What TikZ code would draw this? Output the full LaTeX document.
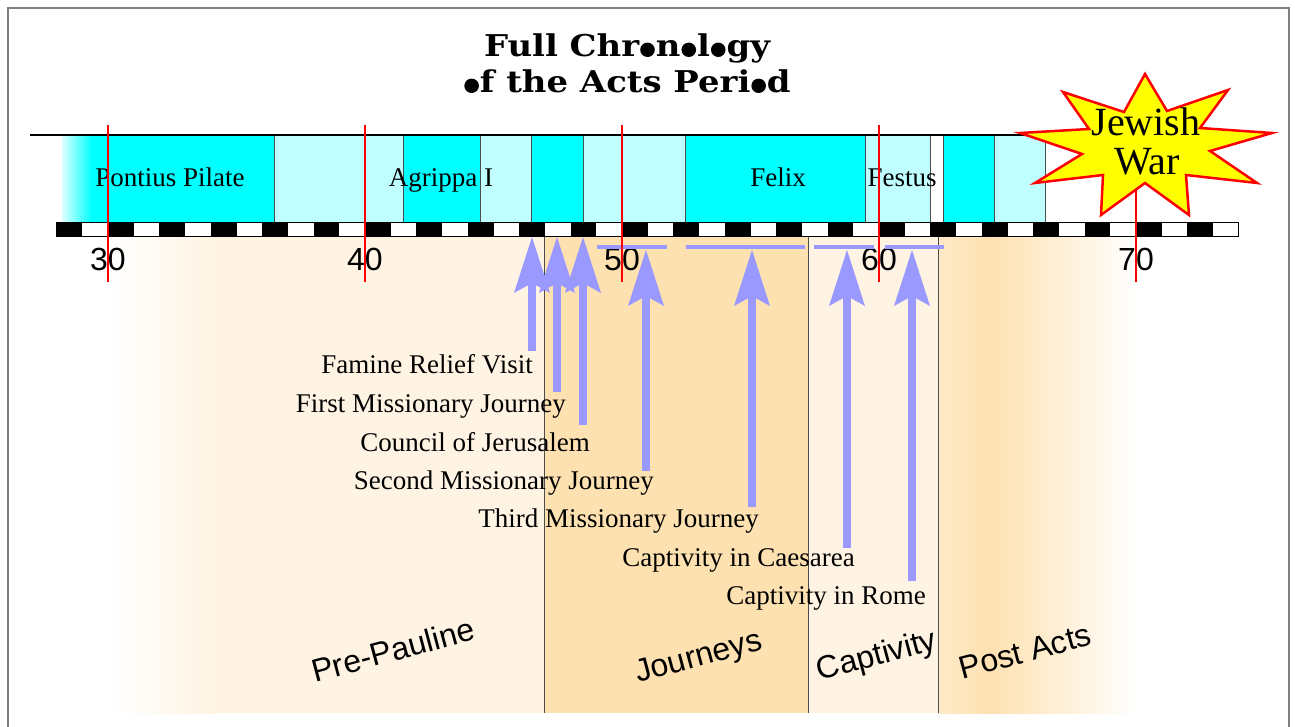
\documentclass[tikz,border=0pt]{standalone}
\usepackage{fontspec}
\setmainfont{Liberation Serif}
\newfontfamily\sansfam{Liberation Sans}
\newfontfamily\headfam{DejaVu Serif}
\usetikzlibrary{arrows.meta}

\definecolor{cyanA}{RGB}{0,255,255}
\definecolor{cyanB}{RGB}{192,255,255}
\definecolor{cyanFade}{RGB}{220,255,255}
\definecolor{peachL}{RGB}{255,244,227}
\definecolor{peachD}{RGB}{254,225,177}
\definecolor{evblue}{RGB}{153,153,255}
\definecolor{starfill}{RGB}{255,255,0}
\definecolor{framegray}{RGB}{128,128,128}

% round black dot used in place of the letter o in the heading
% (narrower in x, since the heading is stretched horizontally)
\newcommand\dotglyph{\hspace{0.03em}\tikz[baseline=0pt]\fill (0pt,0.24em) circle[x radius=0.215em, y radius=0.24em];\hspace{0.03em}}
\newcommand\headline[1]{\scalebox{1.13}[1]{#1}}

\begin{document}
\begin{tikzpicture}[x=1pt,y=-1pt,
  seglabel/.style={font=\fontsize{27}{30}\selectfont, anchor=base, inner sep=0pt},
  yearlabel/.style={font=\sansfam\fontsize{32}{36}\selectfont, anchor=base, inner sep=0pt},
  eventlabel/.style={font=\fontsize{27}{30}\selectfont, anchor=base east, inner sep=0pt},
  periodlabel/.style={font=\sansfam\fontsize{32}{36}\selectfont, anchor=base, inner sep=0pt, rotate=15},
  titleline/.style={font=\headfam\bfseries\fontsize{30}{36}\selectfont, anchor=base, inner sep=0pt},
  warlabel/.style={font=\fontsize{40}{40}\selectfont, anchor=base, inner sep=0pt},
  evarrow/.style={draw=evblue, line width=8pt,
    -{Stealth[length=56pt,width=36pt,inset=10pt,line width=0pt]}},
  evspan/.style={draw=evblue, line width=4pt},
  tickline/.style={draw=red, line width=1.2pt},
  divider/.style={draw=black!70, line width=1pt},
  segedge/.style={draw=black!70, line width=0.8pt},
  framerule/.style={draw=framegray, line width=2pt},
]
\useasboundingbox (0,0) rectangle (1295,727);
\fill[white] (0,0) rectangle (1295,727);

% frame
\draw[framerule] (8,727) -- (8,8) -- (1289,8) -- (1289,727);

% period background bands
\shade[left color=white, right color=peachL] (108,237) rectangle (216,713);
\fill[peachL] (215,237) rectangle (544,713);
\fill[peachD] (544,237) rectangle (808,713);
\fill[peachL] (808,237) rectangle (938,713);
\shade[left color=peachD!70!white, right color=peachD] (938,237) rectangle (991,713);
\shade[left color=peachD, right color=white] (990,237) rectangle (1136,713);
\draw[divider] (544,237) -- (544,713);
\draw[divider] (808,237) -- (808,713);
\draw[divider] (938,237) -- (938,713);

% rulers' bar of governors
\shade[left color=cyanFade, right color=cyanA] (62,136) rectangle (92,223);
\fill[cyanA] (91.5,136) rectangle (274,223);
\fill[cyanB] (274,136) rectangle (403,223);
\fill[cyanA] (403,136) rectangle (480,223);
\fill[cyanB] (480,136) rectangle (531,223);
\fill[cyanA] (531,136) rectangle (583,223);
\fill[cyanB] (583,136) rectangle (685,223);
\fill[cyanA] (685,136) rectangle (865,223);
\fill[cyanB] (865,136) rectangle (930,223);
\fill[cyanA] (943,136) rectangle (994,223);
\fill[cyanB] (994,136) rectangle (1045,223);
\foreach \bx in {274,403,480,531,583,685,865,930,943,994,1045}
  \draw[segedge] (\bx,136) -- (\bx,223);
\draw[line width=2pt] (30,135) -- (1045,135);

% year ruler
\foreach \yr in {28,30,...,72}
  \fill[black] ({108+(\yr-30)*25.7},223) rectangle ({108+(\yr-29)*25.7},237);
\draw[black, line width=1pt] (56.6,223) rectangle (1238.8,237);

% governor names
\node[seglabel] (pilate) at (170,187) {Pontius Pilate};
\node[seglabel] (agrippa) at (441,187) {Agrippa I};
\node[seglabel] (felix) at (778,187) {Felix};
\node[seglabel] (festus) at (902,187) {Festus};

% years
\node[yearlabel] (y30) at (108,271) {30};
\node[yearlabel] (y40) at (365,271) {40};
\node[yearlabel] (y50) at (622,271) {50};
\node[yearlabel] (y60) at (879,271) {60};
\node[yearlabel] (y70) at (1136,271) {70};

% spans of the longer events
\draw[evspan] (597,247) -- (667,247);
\draw[evspan] (686,247) -- (805,247);
\draw[evspan] (814,247) -- (874,247);
\draw[evspan] (885,247) -- (944,247);

% decade ticks
\foreach \tx in {108,365,622,879,1136}
  \draw[tickline] (\tx,125) -- (\tx,282);

% event arrows
\coordinate (e1s) at (532,351); \coordinate (e1t) at (532,237);
\coordinate (e2s) at (557,392); \coordinate (e2t) at (557,237);
\coordinate (e3s) at (583,425); \coordinate (e3t) at (583,237);
\coordinate (e4s) at (646,471); \coordinate (e4t) at (646,250);
\coordinate (e5s) at (752,507); \coordinate (e5t) at (752,250);
\coordinate (e6s) at (847,548); \coordinate (e6t) at (847,250);
\coordinate (e7s) at (912,581); \coordinate (e7t) at (912,250);
\draw[evarrow] (e1s) -- (e1t);
\draw[evarrow] (e2s) -- (e2t);
\draw[evarrow] (e3s) -- (e3t);
\draw[evarrow] (e4s) -- (e4t);
\draw[evarrow] (e5s) -- (e5t);
\draw[evarrow] (e6s) -- (e6t);
\draw[evarrow] (e7s) -- (e7t);

% event names
\node[eventlabel] (famine) at (533,373) {Famine Relief Visit};
\node[eventlabel] (first) at (566,412) {First Missionary Journey};
\node[eventlabel] (council) at (590,451) {Council of Jerusalem};
\node[eventlabel] (second) at (654,489) {Second Missionary Journey};
\node[eventlabel] (third) at (759,527) {Third Missionary Journey};
\node[eventlabel] (caesarea) at (855,566) {Captivity in Caesarea};
\node[eventlabel] (rome) at (926,604) {Captivity in Rome};

% period names
\node[periodlabel] (prepauline) at (396,661) {Pre-Pauline};
\node[periodlabel] (journeys) at (701,666) {Journeys};
\node[periodlabel] (captivity) at (879,665) {Captivity};
\node[periodlabel] (postacts) at (1028,662) {Post Acts};

% heading
\node[titleline] (title1) at (627,57) {\headline{Full Chr\dotglyph n\dotglyph l\dotglyph gy}};
\node[titleline] (title2) at (627,93) {\headline{\dotglyph f the Acts Peri\dotglyph d}};

% burst for the war
\draw[draw=red, line width=2.5pt, fill=starfill]
  (1145,74) -- (1167,111) -- (1228,90) -- (1200,128) -- (1272,133)
  -- (1210,151) -- (1257,183) -- (1186,175) -- (1189,215) -- (1145,183)
  -- (1101,215) -- (1103,175) -- (1035,183) -- (1082,154) -- (1020,133)
  -- (1089,129) -- (1063,92) -- (1124,112) -- cycle;
\node[warlabel] (jewish) at (1146,136) {Jewish};
\node[warlabel] (war) at (1147,175) {War};
\end{tikzpicture}
\end{document}
